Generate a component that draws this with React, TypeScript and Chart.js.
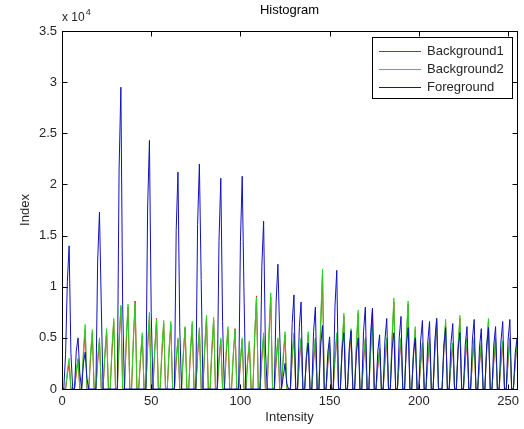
import React, { useEffect, useRef } from 'react';
import { Chart, registerables } from 'chart.js';

Chart.register(...registerables);

// Axis ticks
const intensityTicks = [0, 50, 100, 150, 200, 250];
const indexTicks = [0, 0.5, 1, 1.5, 2, 2.5, 3, 3.5];

const seriesNames = ['Background1', 'Background2', 'Foreground'];
const seriesColors = ['#f01010', '#22d822', '#1010c0'];

// Histogram counts per intensity bin 0..255, in units of 10^4
const background1 = [
  0, 0, 0, 0.14, 0.25, 0, 0, 0, 0.15, 0.28, 0, 0, 0.32, 0.58, 0, 0,
  0.30, 0.55, 0, 0, 0.26, 0.48, 0, 0, 0.31, 0.56, 0, 0, 0.36, 0.66, 0, 0,
  0.44, 0.80, 0, 0, 0.44, 0.80, 0, 0, 0.47, 0.86, 0, 0, 0.29, 0.52, 0, 0,
  0.40, 0.72, 0, 0, 0.38, 0.69, 0, 0, 0.35, 0.64, 0, 0, 0.35, 0.63, 0, 0,
  0.26, 0.48, 0, 0, 0.33, 0.60, 0, 0, 0.35, 0.63, 0, 0, 0.32, 0.58, 0, 0,
  0.39, 0.70, 0, 0, 0.37, 0.67, 0, 0, 0.26, 0.48, 0, 0, 0.32, 0.58, 0, 0,
  0.32, 0.59, 0, 0, 0.26, 0.48, 0, 0, 0.25, 0.45, 0, 0, 0.50, 0.91, 0, 0,
  0.29, 0.52, 0, 0, 0.50, 0.90, 0, 0, 0.26, 0.48, 0, 0, 0.29, 0.53, 0, 0,
  0, 0.29, 0.52, 0, 0, 0.26, 0.48, 0, 0, 0.29, 0.53, 0, 0, 0.26, 0.48, 0,
  0, 0.62, 1.12, 0, 0, 0.24, 0.43, 0, 0, 0.29, 0.52, 0, 0, 0.39, 0.71, 0,
  0, 0.31, 0.56, 0, 0, 0.41, 0.74, 0, 0, 0.26, 0.48, 0, 0, 0.42, 0.77, 0,
  0, 0.21, 0.38, 0, 0, 0.26, 0.48, 0, 0, 0.47, 0.85, 0, 0, 0.26, 0.48, 0,
  0, 0.46, 0.83, 0, 0, 0.32, 0.58, 0, 0, 0.24, 0.43, 0, 0, 0.26, 0.48, 0,
  0, 0.36, 0.66, 0, 0, 0, 0.36, 0.65, 0, 0, 0.24, 0.43, 0, 0, 0.38, 0.69,
  0, 0, 0.26, 0.48, 0, 0, 0.26, 0.48, 0, 0, 0.24, 0.43, 0, 0, 0.36, 0.66,
  0, 0, 0.26, 0.48, 0, 0, 0.25, 0.45, 0, 0, 0.26, 0.48, 0, 0, 0.24, 0.43,
];

const background2 = [
  0, 0, 0, 0.18, 0.30, 0, 0, 0, 0.18, 0.30, 0, 0, 0.38, 0.63, 0, 0,
  0.35, 0.58, 0, 0, 0.30, 0.50, 0, 0, 0.35, 0.59, 0, 0, 0.41, 0.69, 0, 0,
  0.49, 0.82, 0, 0, 0.50, 0.83, 0, 0, 0.50, 0.84, 0, 0, 0.33, 0.55, 0, 0,
  0.45, 0.75, 0, 0, 0.41, 0.68, 0, 0, 0.40, 0.67, 0, 0, 0.40, 0.66, 0, 0,
  0.30, 0.50, 0, 0, 0.37, 0.61, 0, 0, 0.40, 0.66, 0, 0, 0.36, 0.60, 0, 0,
  0.43, 0.72, 0, 0, 0.42, 0.70, 0, 0, 0.30, 0.50, 0, 0, 0.37, 0.61, 0, 0,
  0.35, 0.58, 0, 0, 0.30, 0.50, 0, 0, 0.28, 0.47, 0, 0, 0.54, 0.90, 0, 0,
  0.33, 0.55, 0, 0, 0.56, 0.94, 0, 0, 0.30, 0.50, 0, 0, 0.34, 0.56, 0, 0,
  0, 0.33, 0.55, 0, 0, 0.30, 0.50, 0, 0, 0.34, 0.56, 0, 0, 0.30, 0.50, 0,
  0, 0.70, 1.17, 0, 0, 0.27, 0.45, 0, 0, 0.33, 0.55, 0, 0, 0.44, 0.74, 0,
  0, 0.35, 0.59, 0, 0, 0.46, 0.77, 0, 0, 0.30, 0.50, 0, 0, 0.36, 0.60, 0,
  0, 0.24, 0.40, 0, 0, 0.30, 0.50, 0, 0, 0.53, 0.89, 0, 0, 0.30, 0.50, 0,
  0, 0.52, 0.86, 0, 0, 0.37, 0.61, 0, 0, 0.27, 0.45, 0, 0, 0.30, 0.50, 0,
  0, 0.41, 0.69, 0, 0, 0, 0.41, 0.68, 0, 0, 0.27, 0.45, 0, 0, 0.43, 0.72,
  0, 0, 0.30, 0.50, 0, 0, 0.30, 0.50, 0, 0, 0.27, 0.45, 0, 0, 0.41, 0.69,
  0, 0, 0.30, 0.50, 0, 0, 0.28, 0.47, 0, 0, 0.30, 0.50, 0, 0, 0.27, 0.45,
];

const foreground = [
  0, 0, 0.34, 1.05, 1.40, 0.35, 0, 0, 0.37, 0.50, 0.15, 0, 0.25, 0.36, 0.10, 0,
  0, 0, 0, 0, 1.26, 1.73, 0.83, 0, 0, 0, 0, 0, 0, 0, 0, 0,
  2.15, 2.95, 0.82, 0, 0, 0, 0, 0, 0, 0, 0, 0, 0, 0, 0, 0,
  1.78, 2.43, 0.75, 0, 0, 0, 0, 0, 0, 0, 0, 0, 0, 0, 0, 0,
  1.55, 2.12, 0.60, 0, 0, 0, 0, 0, 0, 0, 0, 0, 1.61, 2.20, 1.07, 0,
  0, 0, 0, 0, 0, 0, 0, 0, 1.45, 2.06, 0.66, 0, 0, 0, 0, 0,
  0, 0, 0, 0, 1.44, 2.08, 0.94, 0, 0, 0, 0, 0, 0, 0, 0, 0,
  1.20, 1.64, 0.39, 0, 0, 0, 0, 0, 0.85, 1.22, 0.55, 0, 0.12, 0.25, 0.05, 0,
  0, 0.64, 0.92, 0, 0, 0.60, 0.85, 0, 0, 0.32, 0.45, 0, 0, 0.56, 0.80, 0,
  0, 0.43, 0.62, 0, 0, 0.36, 0.51, 0, 0, 0.81, 1.16, 0, 0, 0.39, 0.55, 0,
  0, 0.40, 0.57, 0, 0, 0.35, 0.50, 0, 0, 0.56, 0.80, 0, 0, 0.55, 0.79, 0,
  0, 0.37, 0.53, 0, 0, 0.48, 0.69, 0, 0, 0.39, 0.55, 0, 0, 0.50, 0.71, 0,
  0, 0.42, 0.60, 0, 0, 0.35, 0.50, 0, 0, 0.47, 0.67, 0, 0, 0.46, 0.66, 0,
  0, 0.48, 0.69, 0, 0, 0, 0.42, 0.60, 0, 0, 0.45, 0.64, 0, 0, 0.39, 0.55,
  0, 0, 0.43, 0.61, 0, 0, 0.48, 0.68, 0, 0, 0.41, 0.59, 0, 0, 0.42, 0.60,
  0, 0, 0.43, 0.61, 0, 0, 0.46, 0.66, 0, 0, 0.48, 0.68, 0, 0, 0.35, 0.50,
];

const seriesValues = [background1, background2, foreground];

const FONT = '"Liberation Sans", Arial, Helvetica, sans-serif';
const TEXT_COLOR = '#262626';

const matlabDecor = {
  id: 'matlabDecor',
  afterDatasetsDraw(chart: any) {
    const { ctx, chartArea: a, scales } = chart;
    const L = Math.round(a.left) + 0.5;
    const R = Math.round(a.right) + 0.5;
    const T = Math.round(a.top) + 0.5;
    const B = Math.round(a.bottom) + 0.5;
    ctx.save();
    ctx.strokeStyle = '#000';
    ctx.lineWidth = 1;
    ctx.strokeRect(L, T, R - L, B - T);
    const tl = 5;
    ctx.beginPath();
    intensityTicks.forEach((v) => {
      const x = Math.round(scales.x.getPixelForValue(v)) + 0.5;
      ctx.moveTo(x, B); ctx.lineTo(x, B - tl);
      ctx.moveTo(x, T); ctx.lineTo(x, T + tl);
    });
    indexTicks.forEach((v) => {
      const y = Math.round(scales.y.getPixelForValue(v)) + 0.5;
      ctx.moveTo(L, y); ctx.lineTo(L + tl, y);
      ctx.moveTo(R, y); ctx.lineTo(R - tl, y);
    });
    ctx.stroke();

    // titles
    ctx.fillStyle = '#000';
    ctx.font = `13px ${FONT}`;
    ctx.textAlign = 'center';
    ctx.textBaseline = 'middle';
    const cx = (a.left + a.right) / 2;
    ctx.fillText('Histogram', cx, 10);
    ctx.fillStyle = TEXT_COLOR;
    ctx.fillText('Intensity', cx, 417);
    ctx.save();
    ctx.translate(25, (a.top + a.bottom) / 2);
    ctx.rotate(-Math.PI / 2);
    ctx.fillText('Index', 0, 0);
    ctx.restore();

    // exponent label
    ctx.textAlign = 'left';
    ctx.font = `12px ${FONT}`;
    ctx.fillText('x 10', 62, 18);
    const w = ctx.measureText('x 10').width;
    ctx.font = `9px ${FONT}`;
    ctx.fillText('4', 62 + w + 1, 13);

    // legend
    const bx = 372.5, by = 37.5, bw = 140, bh = 61;
    ctx.fillStyle = '#fff';
    ctx.fillRect(bx, by, bw, bh);
    ctx.strokeStyle = '#000';
    ctx.lineWidth = 1;
    ctx.strokeRect(bx, by, bw, bh);
    ctx.font = `13px ${FONT}`;
    ctx.textBaseline = 'middle';
    for (let i = 0; i < seriesNames.length; i++) {
      const y = 51 + i * 18;
      ctx.fillStyle = seriesColors[i];
      ctx.fillRect(379, y, 42, 1);
      ctx.fillStyle = TEXT_COLOR;
      ctx.fillText(seriesNames[i], 427, y);
    }
    ctx.restore();
  },
};

export default function App() {
  const ref = useRef<HTMLCanvasElement | null>(null);

  useEffect(() => {
    if (!ref.current) return;
    const datasets = seriesValues.map((vals, i) => ({
      label: seriesNames[i],
      data: vals.map((v, bin) => ({ x: bin, y: v })),
      borderColor: seriesColors[i],
      backgroundColor: seriesColors[i],
      borderWidth: 1,
      pointRadius: 0,
      fill: false,
      tension: 0,
      order: seriesValues.length - i,
    }));
    const chart = new Chart(ref.current, {
      type: 'line',
      data: { datasets },
      options: {
        animation: false,
        responsive: false,
        devicePixelRatio: 1,
        layout: { padding: { top: 31, right: 4.5, left: 0, bottom: 0 } },
        plugins: {
          legend: { display: false },
          tooltip: { enabled: false },
          title: { display: false },
        },
        scales: {
          x: {
            type: 'linear',
            min: 0,
            max: 255,
            grid: { display: false, drawTicks: false },
            border: { display: false },
            ticks: {
              padding: 5,
              color: TEXT_COLOR,
              font: { family: FONT, size: 13 },
              maxRotation: 0,
              callback: (v: any) => String(v),
            },
            afterBuildTicks: (s: any) => {
              s.ticks = intensityTicks.map((v) => ({ value: v }));
            },
            afterFit: (s: any) => {
              s.height = 40;
            },
          },
          y: {
            type: 'linear',
            min: 0,
            max: 3.5,
            grid: { display: false, drawTicks: false },
            border: { display: false },
            ticks: {
              padding: 5,
              color: TEXT_COLOR,
              font: { family: FONT, size: 13 },
              callback: (v: any) => String(v),
            },
            afterBuildTicks: (s: any) => {
              s.ticks = indexTicks.map((v) => ({ value: v }));
            },
            afterFit: (s: any) => {
              s.width = 62;
            },
          },
        },
      },
      plugins: [matlabDecor],
    });
    return () => chart.destroy();
  }, []);

  return (
    <div style={{ position: 'fixed', left: 0, top: 0, width: 524, height: 429, background: '#fff' }}>
      <canvas ref={ref} width={524} height={429} style={{ display: 'block', width: 524, height: 429 }} />
    </div>
  );
}
